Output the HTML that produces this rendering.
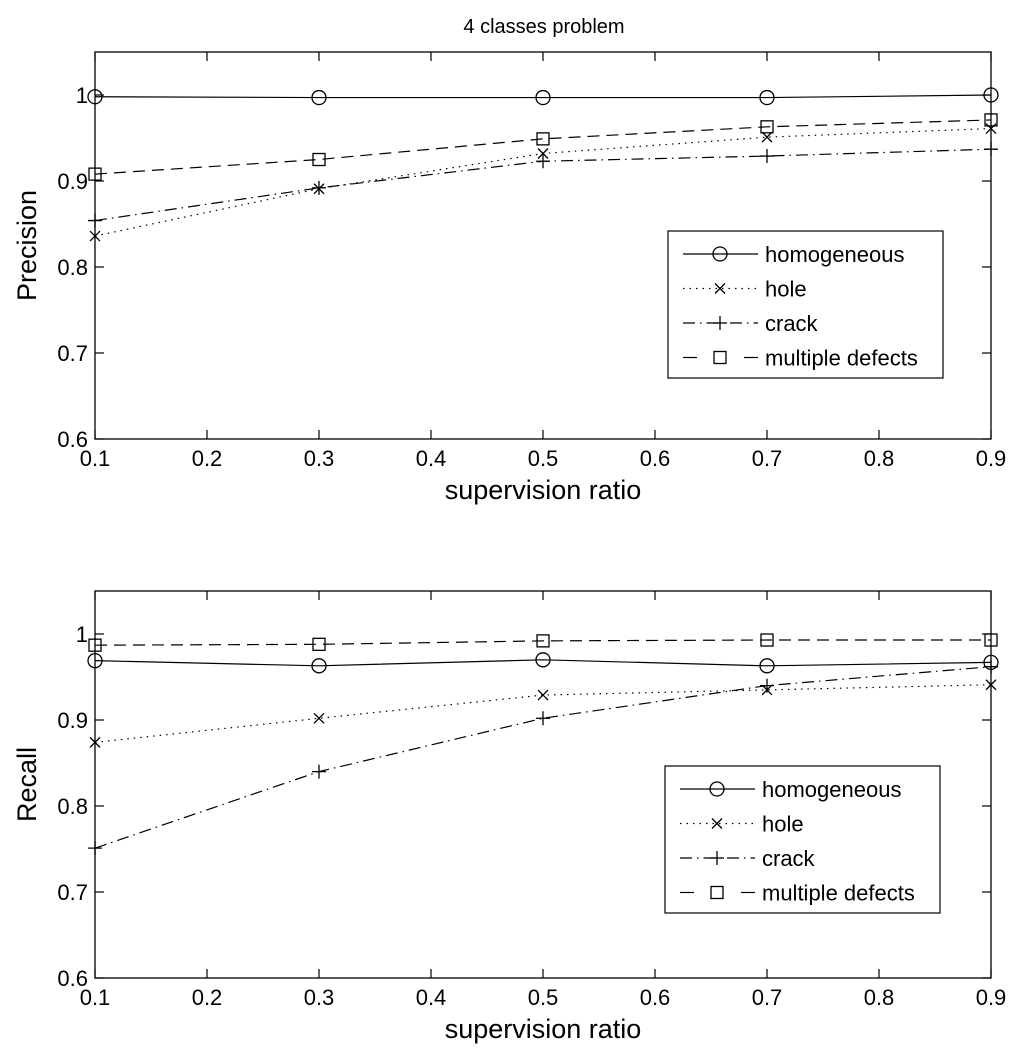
<!DOCTYPE html>
<html><head><meta charset="utf-8"><style>
body{margin:0;background:#fff;}
svg{display:block;font-family:"Liberation Sans",sans-serif;}
</style></head><body>
<svg id="chart" width="1024" height="1062" viewBox="0 0 1024 1062">
<text x="544" y="33" font-size="20" text-anchor="middle">4 classes problem</text>
</svg>
<script>
const xValues = [0.1, 0.3, 0.5, 0.7, 0.9];
const xTicks = [0.1, 0.2, 0.3, 0.4, 0.5, 0.6, 0.7, 0.8, 0.9];
const yTicks = [0.6, 0.7, 0.8, 0.9, 1];
const seriesNames = ["homogeneous", "hole", "crack", "multiple defects"];
const precHomogeneous = [0.998, 0.997, 0.997, 0.997, 1.0];
const precHole = [0.836, 0.891, 0.932, 0.951, 0.961];
const precCrack = [0.854, 0.892, 0.923, 0.929, 0.937];
const precMultiple = [0.908, 0.925, 0.949, 0.963, 0.971];
const recHomogeneous = [0.969, 0.963, 0.970, 0.963, 0.967];
const recHole = [0.874, 0.902, 0.929, 0.935, 0.941];
const recCrack = [0.751, 0.840, 0.902, 0.940, 0.962];
const recMultiple = [0.987, 0.988, 0.992, 0.993, 0.993];

const NS = "http://www.w3.org/2000/svg";
const svg = document.getElementById("chart");
function mk(tag, attrs, parent){const e=document.createElementNS(NS,tag);for(const k in attrs)e.setAttribute(k,attrs[k]);(parent||svg).appendChild(e);return e;}
const styles = [
  {dash:"", marker:"circle"},
  {dash:"1.5 5", marker:"x"},
  {dash:"12 5 1.5 5", marker:"plus"},
  {dash:"12 7", marker:"square"}
];
function marker(g,type,x,y){
  let e;
  if(type==="circle"){e=mk("circle",{cx:x,cy:y,r:7,fill:"none",stroke:"#000","stroke-width":1.3},g);}
  else if(type==="x"){e=mk("path",{d:`M${x-5},${y-5}L${x+5},${y+5}M${x-5},${y+5}L${x+5},${y-5}`,stroke:"#000","stroke-width":1.3,fill:"none"},g);}
  else if(type==="plus"){e=mk("path",{d:`M${x-7},${y}L${x+7},${y}M${x},${y-7}L${x},${y+7}`,stroke:"#000","stroke-width":1.3,fill:"none"},g);}
  else {e=mk("rect",{x:x-6,y:y-6,width:12,height:12,fill:"none",stroke:"#000","stroke-width":1.3},g);}
  
  
}
function panel(name, top, bottom, yLabel, series, leg){
  const L=95,R=991;
  const sx=v=>L+(v-0.1)/0.8*(R-L);
  const sy=v=>bottom-(v-0.6)/0.45*(bottom-top);
  const g=mk("g",{});
  
  
  const box=mk("rect",{x:L,y:top,width:R-L,height:bottom-top,fill:"none",stroke:"#000","stroke-width":1.3},g);
  
  
  xTicks.forEach(t=>{const x=sx(t);
    mk("line",{x1:x,y1:bottom,x2:x,y2:bottom-9,stroke:"#000","stroke-width":1.2},g);
    mk("line",{x1:x,y1:top,x2:x,y2:top+9,stroke:"#000","stroke-width":1.2},g);
    const tx=mk("text",{x:x,y:bottom+27,"font-size":22,"text-anchor":"middle"},g);tx.textContent=String(t);
    
    
  });
  yTicks.forEach(t=>{const y=sy(t);
    mk("line",{x1:L,y1:y,x2:L+9,y2:y,stroke:"#000","stroke-width":1.2},g);
    mk("line",{x1:R,y1:y,x2:R-9,y2:y,stroke:"#000","stroke-width":1.2},g);
    const tx=mk("text",{x:L-7,y:y+8,"font-size":22,"text-anchor":"end"},g);tx.textContent=String(t);
    
    
  });
  const xl=mk("text",{x:(L+R)/2,y:bottom+60,"font-size":27,"text-anchor":"middle"},g);xl.textContent="supervision ratio";
  
  
  const cy=(top+bottom)/2;
  const yl=mk("text",{x:36,y:cy,"font-size":27,"text-anchor":"middle",transform:`rotate(-90 36 ${cy})`},g);yl.textContent=yLabel;
  
  
  series.forEach((vals,i)=>{
    const st=styles[i];
    const p=mk("polyline",{points:vals.map((v,j)=>sx(xValues[j])+","+sy(v)).join(" "),fill:"none",stroke:"#000","stroke-width":1.2,"stroke-dasharray":st.dash},g);
    
    
    vals.forEach((v,j)=>marker(g,st.marker,sx(xValues[j]),sy(v)));
  });
  const lg=mk("g",{},g);
  
  
  mk("rect",{x:leg.x,y:leg.y,width:275,height:147,fill:"#fff",stroke:"#000","stroke-width":1.2},lg);
  seriesNames.forEach((n,i)=>{
    const y=leg.y+23+i*34.5;
    const st=styles[i];
    if(i===3){
      mk("line",{x1:leg.x+15,y1:y,x2:leg.x+29,y2:y,stroke:"#000","stroke-width":1.2},lg);
      mk("line",{x1:leg.x+76,y1:y,x2:leg.x+90,y2:y,stroke:"#000","stroke-width":1.2},lg);
    } else {
      mk("line",{x1:leg.x+15,y1:y,x2:leg.x+90,y2:y,stroke:"#000","stroke-width":1.2,"stroke-dasharray":st.dash},lg);
    }
    marker(lg,st.marker,leg.x+52,y);
    const t=mk("text",{x:leg.x+97,y:y+8,"font-size":22},lg);t.textContent=n;
    
    
  });
}
panel("precision",52,439,"Precision",[precHomogeneous,precHole,precCrack,precMultiple],{x:668,y:231});
panel("recall",591,978,"Recall",[recHomogeneous,recHole,recCrack,recMultiple],{x:665,y:766});
</script>
</body></html>
